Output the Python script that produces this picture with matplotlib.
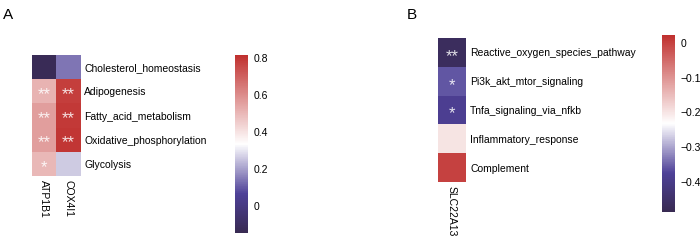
import matplotlib
matplotlib.use("Agg")
import matplotlib.pyplot as plt
import numpy as np
from matplotlib.colors import LinearSegmentedColormap

plt.rcParams['font.family'] = ['Liberation Sans', 'DejaVu Sans']

# Panel A data
a_rows = ["Cholesterol_homeostasis", "Adipogenesis", "Fatty_acid_metabolism",
          "Oxidative_phosphorylation", "Glycolysis"]
a_cols = ["ATP1B1", "COX4I1"]
a_atp1b1 = [-0.13, 0.51, 0.56, 0.56, 0.50]
a_cox4i1 = [0.14, 0.78, 0.79, 0.80, 0.26]
a_stars_atp1b1 = ["", "**", "**", "**", "*"]
a_stars_cox4i1 = ["", "**", "**", "**", ""]
a_ticks = [0, 0.2, 0.4, 0.6, 0.8]
a_tick_labels = ["0", "0.2", "0.4", "0.6", "0.8"]
a_range = (-0.146, 0.816)

# Panel B data
b_rows = ["Reactive_oxygen_species_pathway", "Pi3k_akt_mtor_signaling",
          "Tnfa_signaling_via_nfkb", "Inflammatory_response", "Complement"]
b_cols = ["SLC22A13"]
b_slc22a13 = [-0.47, -0.36, -0.385, -0.20, 0.0]
b_stars = ["**", "*", "*", "", ""]
b_ticks = [-0.4, -0.3, -0.2, -0.1, 0]
b_tick_labels = ["\u22120.4", "\u22120.3", "\u22120.2", "\u22120.1", "0"]
b_range = (-0.488, 0.024)

cmap = LinearSegmentedColormap.from_list(
    "bwr_custom",
    [(0.0, "#382a52"), (0.22, "#4e4198"), (0.5, "#ffffff"), (1.0, "#c0302e")])

fig = plt.figure(figsize=(7, 2.4), dpi=100)
FS = 7.5

def draw_heat(ax_rect, cax_rect, data, stars, rows, cols, vr, ticks, tlabels):
    ax = fig.add_axes(ax_rect)
    arr = np.array(data)
    ax.imshow(arr, cmap=cmap, vmin=vr[0], vmax=vr[1], aspect='auto',
              interpolation='nearest')
    for j in range(arr.shape[1]):
        for i in range(arr.shape[0]):
            s = stars[i][j]
            if s:
                ax.text(j, i + 0.14, s, ha='center', va='center', color='white',
                        fontsize=12, alpha=0.85)
    ax.yaxis.tick_right()
    ax.set_yticks(range(len(rows)))
    ax.set_yticklabels(rows, fontsize=FS)
    ax.set_xticks(range(len(cols)))
    ax.set_xticklabels(cols, rotation=270, fontsize=FS)
    ax.tick_params(length=0, pad=3)
    for sp in ax.spines.values():
        sp.set_visible(False)
    cax = fig.add_axes(cax_rect)
    sm = plt.cm.ScalarMappable(cmap=cmap, norm=plt.Normalize(vr[0], vr[1]))
    cb = fig.colorbar(sm, cax=cax)
    cb.outline.set_visible(False)
    cb.set_ticks(ticks)
    cb.set_ticklabels(tlabels)
    cax.tick_params(length=0, labelsize=FS, pad=4)
    return ax

a_data = [[a_atp1b1[i], a_cox4i1[i]] for i in range(len(a_rows))]
a_st = [[a_stars_atp1b1[i], a_stars_cox4i1[i]] for i in range(len(a_rows))]
draw_heat([0.0457, 0.2667, 0.0686, 0.504], [0.3357, 0.029, 0.0186, 0.742],
          a_data, a_st, a_rows, a_cols, a_range, a_ticks, a_tick_labels)

b_data = [[v] for v in b_slc22a13]
b_st = [[s] for s in b_stars]
draw_heat([0.6257, 0.2417, 0.04, 0.6], [0.9457, 0.1167, 0.0186, 0.7375],
          b_data, b_st, b_rows, b_cols, b_range, b_ticks, b_tick_labels)

fig.text(0.004, 0.965, "A", fontsize=11, va='top', ha='left')
fig.text(0.581, 0.965, "B", fontsize=11, va='top', ha='left')

fig.savefig("out.png", dpi=100)
